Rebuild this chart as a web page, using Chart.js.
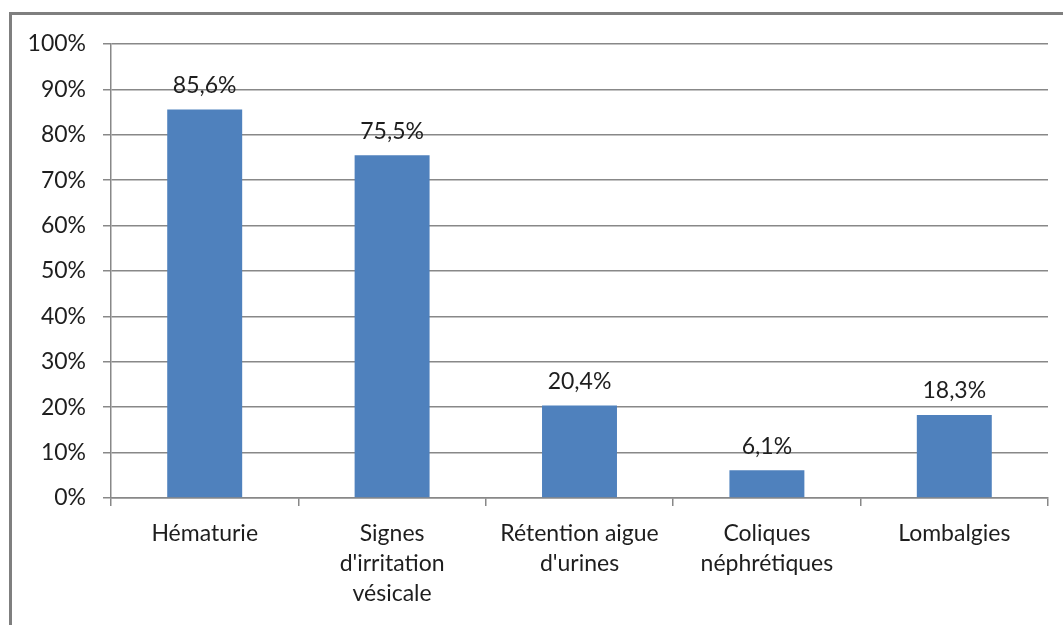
<!DOCTYPE html>
<html>
<head>
<meta charset="utf-8">
<script src="https://cdn.jsdelivr.net/npm/chart.js@4"></script>
<style>
  html, body { margin: 0; padding: 0; background: #fff; overflow: hidden; }
  #frame {
    position: absolute; left: 9px; top: 12px; width: 1200px; height: 700px;
    border-left: 3px solid #7f7f7f; border-top: 3px solid #7f7f7f;
  }
  #wrap { position: absolute; left: 0; top: 0; width: 1063px; height: 625px; }
</style>
</head>
<body>
<div id="frame"></div>
<div id="wrap"><canvas id="myChart"></canvas></div>
<script>
const CATEGORIES = [
  'Hématurie',
  ['Signes', "d'irritation", 'vésicale'],
  ['Rétention aigue', "d'urines"],
  ['Coliques', 'néphrétiques'],
  'Lombalgies'
];
const PERCENTAGES = [85.6, 75.5, 20.4, 6.1, 18.3];
const Y_TICKS = [0, 10, 20, 30, 40, 50, 60, 70, 80, 90, 100];

const FONT_FAMILY = 'Lato, "Open Sans", sans-serif';
const FONT_SIZE = 23;
const TEXT_COLOR = '#1e1e1e';
const GRID_COLOR = '#888888';
const BAR_COLOR = '#4f81bd';

function formatPercent(v) {
  return v.toFixed(1).replace('.', ',') + '%';
}

// value labels above each bar
const barLabels = {
  id: 'barLabels',
  afterDatasetsDraw(chart) {
    const ctx = chart.ctx;
    const meta = chart.getDatasetMeta(0);
    ctx.save();
    ctx.font = FONT_SIZE + 'px ' + FONT_FAMILY;
    ctx.fillStyle = TEXT_COLOR;
    ctx.textAlign = 'center';
    ctx.textBaseline = 'middle';
    meta.data.forEach((bar, i) => {
      ctx.fillText(formatPercent(PERCENTAGES[i]), bar.x, bar.y - 24);
    });
    ctx.restore();
  }
};

const config = {
  type: 'bar',
  data: {
    labels: CATEGORIES,
    datasets: [{
      data: PERCENTAGES,
      backgroundColor: BAR_COLOR,
      barPercentage: 0.8,
      categoryPercentage: 0.5
    }]
  },
  options: {
    responsive: true,
    maintainAspectRatio: false,
    animation: false,
    layout: { padding: { top: 44, right: 15, left: 0, bottom: 0 } },
    plugins: {
      legend: { display: false },
      tooltip: { enabled: false }
    },
    scales: {
      x: {
        grid: {
          offset: true,
          drawOnChartArea: false,
          drawTicks: true,
          tickLength: 8,
          color: GRID_COLOR,
          lineWidth: 1.5
        },
        border: { color: GRID_COLOR, width: 1.5 },
        ticks: {
          color: TEXT_COLOR,
          font: { family: FONT_FAMILY, size: FONT_SIZE, lineHeight: 1.32 },
          padding: 12,
          maxRotation: 0,
          autoSkip: false
        },
        afterFit(scale) { scale.height = 127; }
      },
      y: {
        min: 0,
        max: 100,
        afterBuildTicks(scale) {
          scale.ticks = Y_TICKS.map(v => ({ value: v }));
        },
        grid: {
          color: GRID_COLOR,
          lineWidth: 1.5,
          tickLength: 8
        },
        border: { color: GRID_COLOR, width: 1.5 },
        ticks: {
          color: TEXT_COLOR,
          font: { family: FONT_FAMILY, size: FONT_SIZE },
          padding: 17,
          callback: v => v + '%'
        },
        afterFit(scale) { scale.width = 111; }
      }
    }
  },
  plugins: [barLabels]
};

new Chart(document.querySelector('#myChart'), config);
</script>
</body>
</html>
